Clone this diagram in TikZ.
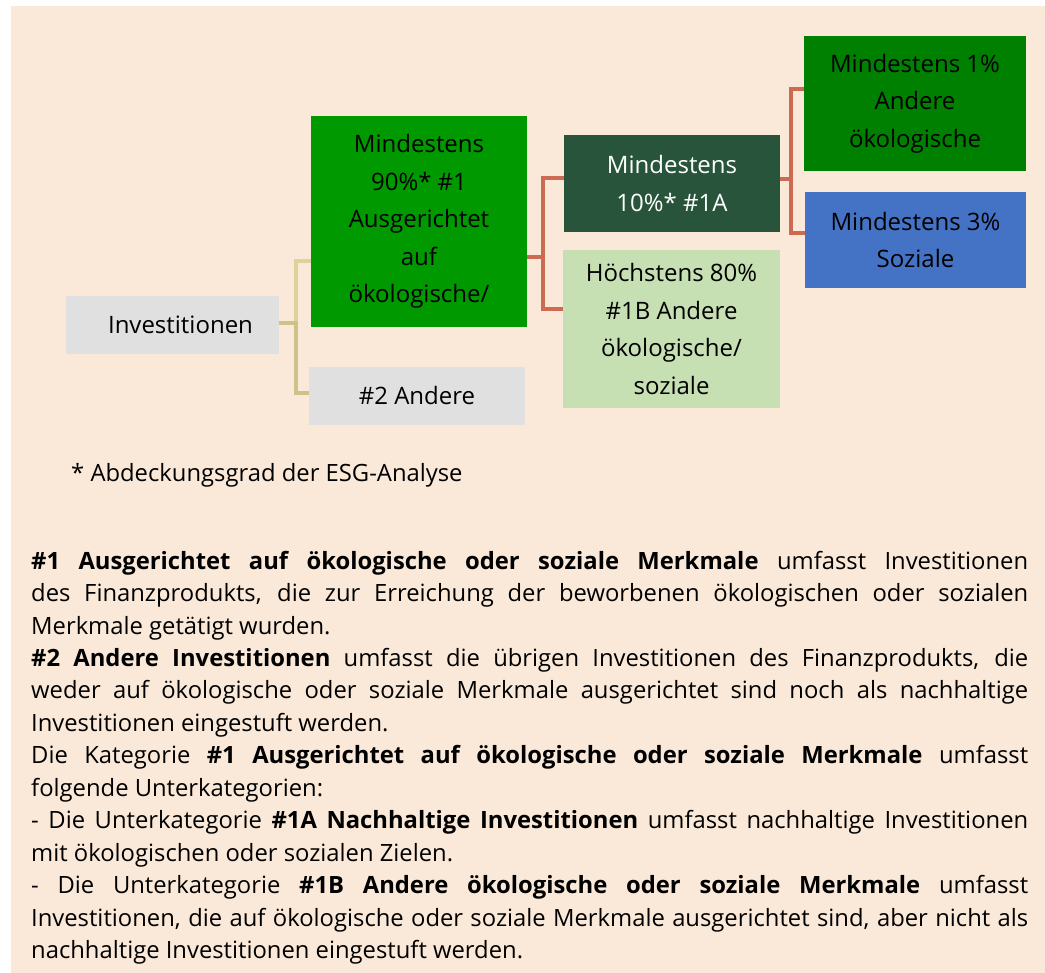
\documentclass[tikz,border=0pt]{standalone}
\usepackage{fontspec}
\setmainfont{Open Sans}
\definecolor{paper}{RGB}{250,233,216}
\definecolor{boxgray}{RGB}{224,224,224}
\definecolor{brightgreen}{RGB}{0,153,0}
\definecolor{darkgreen}{RGB}{39,84,58}
\definecolor{palegreen}{RGB}{198,224,180}
\definecolor{midgreen}{RGB}{0,128,0}
\definecolor{boxblue}{RGB}{68,114,196}
\definecolor{tanA}{RGB}{220,211,155}
\definecolor{tanB}{RGB}{203,195,138}
\definecolor{rust}{RGB}{204,106,82}
\newcommand\boxfont{\fontsize{24}{37.5}\selectfont}
\newcommand\bodyfont{\fontsize{23.8}{32.5}\selectfont\hyphenpenalty=10000}
\tikzset{
  catbox/.style={minimum width=216pt, inner sep=0pt, align=center, font=\boxfont},
  tanline/.style={line width=4pt},
  rustline/.style={line width=4pt, draw=rust}
}

\begin{document}
\begin{tikzpicture}[x=1pt, y=-1pt]

    \useasboundingbox (0,0) rectangle (1045,973);
    \fill[paper] (11,6) rectangle (1045,973);

    % categories
    \node[catbox, fill=boxgray, minimum width=213pt, minimum height=58pt] (invest) at (172.5,325) {\hspace*{16pt}Investitionen};
    \node[catbox, fill=brightgreen, minimum height=211pt] (aligned) at (419,221.5)
      {Mindestens\\90\%* \#1\\Ausgerichtet\\auf\\ökologische/};
    \node[catbox, fill=boxgray, minimum height=58pt] (other) at (417,396) {\#2 Andere};
    \node[catbox, fill=darkgreen, text=white, minimum height=97pt] (sustain) at (672,183.5)
      {Mindestens\\10\%* \#1A};
    \node[catbox, fill=palegreen, minimum width=217pt, minimum height=158pt] (otherchar) at (671.5,329)
      {Höchstens 80\%\\\#1B Andere\\ökologische/\\soziale};
    \node[catbox, fill=midgreen, minimum width=222pt, minimum height=135pt] (envir) at (915,103.5)
      {Mindestens 1\%\\Andere\\ökologische};
    \node[catbox, fill=boxblue, minimum width=221pt, minimum height=96pt] (social) at (915.5,240)
      {Mindestens 3\%\\Soziale};

    % connectors
    \draw[tanline, draw=tanA] ([yshift=2pt]invest.east) -- ++(17,0) |- ([yshift=-39.5pt]aligned.west);
    \draw[tanline, draw=tanB] ([yshift=2pt]invest.east) -- ++(17,0) |- ([yshift=3pt]other.west);
    \draw[rustline] ([yshift=-35.5pt]aligned.east) -- ++(16,0) |- ([yshift=5.5pt]sustain.west);
    \draw[rustline] ([yshift=-35.5pt]aligned.east) -- ++(16,0) |- ([yshift=20pt]otherchar.west);
    \draw[rustline] ([yshift=4.5pt]sustain.east) -- ++(11,0) |- ([yshift=14.5pt]envir.west);
    \draw[rustline] ([yshift=4.5pt]sustain.east) -- ++(11,0) |- ([yshift=7pt]social.west);

    \node[anchor=base west, inner sep=0pt, font=\bodyfont] (note) at (71,482) {* Abdeckungsgrad der ESG-Analyse};

    % explanations
    \node[anchor=base west, inner sep=0pt, text width=997pt, align=justify, font=\bodyfont] (legend) at (31,569) {%
      \textbf{\#1 Ausgerichtet auf ökologische oder soziale Merkmale} umfasst Investitionen\linebreak
      des Finanzprodukts, die zur Erreichung der beworbenen ökologischen oder sozialen\linebreak
      Merkmale getätigt wurden.\par
      \textbf{\#2 Andere Investitionen} umfasst die übrigen Investitionen des Finanzprodukts, die\linebreak
      weder auf ökologische oder soziale Merkmale ausgerichtet sind noch als nachhaltige\linebreak
      Investitionen eingestuft werden.\par
      Die Kategorie \textbf{\#1 Ausgerichtet auf ökologische oder soziale Merkmale} umfasst\linebreak
      folgende Unterkategorien:\par
      - Die Unterkategorie \textbf{\#1A Nachhaltige Investitionen} umfasst nachhaltige Investitionen\linebreak
      mit ökologischen oder sozialen Zielen.\par
      - Die Unterkategorie \textbf{\#1B Andere ökologische oder soziale Merkmale} umfasst\linebreak
      Investitionen, die auf ökologische oder soziale Merkmale ausgerichtet sind, aber nicht als\linebreak
      nachhaltige Investitionen eingestuft werden.};

  \end{tikzpicture}
\end{document}
